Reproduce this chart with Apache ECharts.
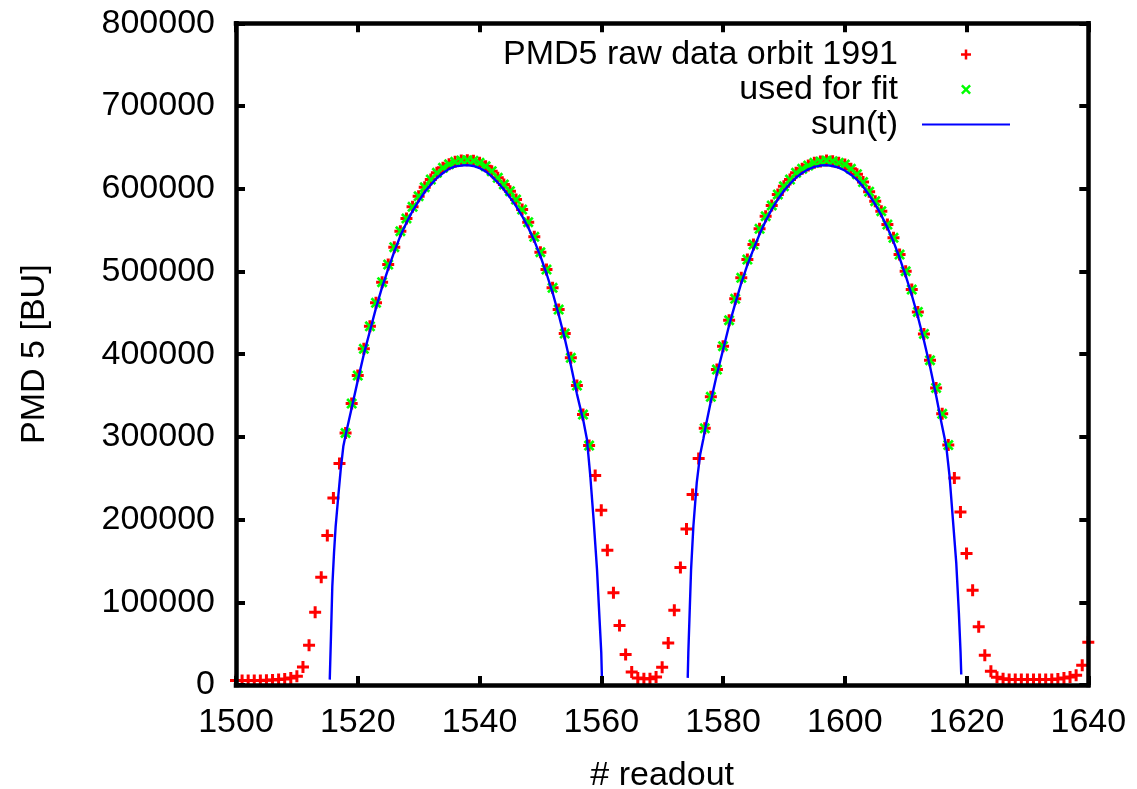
<!DOCTYPE html>
<html><head><meta charset="utf-8">
<script src="https://cdn.jsdelivr.net/npm/echarts@6/dist/echarts.min.js"></script>
<style>html,body{margin:0;padding:0;background:#fff}#c{width:1137px;height:789px}</style>
</head><body><div id="c"></div>
<script>
// ---- data ----
const firstReadout = 1500;
const rawValues = [
  5300, 5300, 5300, 5300, 5300, 5700, 6100, 6500, 7400, 8600,
  10500, 21900, 48000, 87900, 130200, 180600, 226200, 267700, 304700, 340300,
  374100, 406400, 433700, 462000, 487000, 508300, 529300, 548600, 564000, 578100,
  590900, 601800, 611100, 619200, 625300, 629600, 632500, 634100, 634500, 633700,
  631300, 627200, 621200, 613200, 605100, 597000, 586900, 574800, 559500, 541800,
  523200, 502300, 480200, 453900, 424900, 395500, 362000, 327000, 289500, 253200,
  211300, 162900, 111400, 71800, 36800, 15800, 8600, 7700, 7700, 9800,
  21400, 50900, 90300, 142000, 188700, 230200, 273800, 310300, 348400, 381400,
  409600, 441000, 466900, 492300, 514400, 532500, 551500, 566700, 579700, 593000,
  603000, 611100, 619200, 624000, 628000, 631300, 632900, 634100, 633300, 631300,
  629300, 624000, 617600, 608100, 596400, 584900, 572800, 556700, 540600, 520400,
  500200, 478100, 451100, 424500, 392600, 359200, 327800, 290100, 250400, 209300,
  158900, 114500, 70300, 35900, 16600, 9300, 7700, 6500, 6500, 6500,
  6500, 6500, 6500, 6500, 6500, 7400, 8600, 9800, 11700, 23800,
  51600
];
const fitRanges = [[1518, 1558], [1577, 1617]];

const sunX = [
  1515.4, 1515.6, 1515.82, 1516.1, 1516.37, 1516.8, 1517.2, 1517.63,
  1518, 1519, 1520, 1521, 1522, 1523, 1524, 1525, 1526, 1527, 1528, 1529,
  1530, 1531, 1532, 1533, 1534, 1535, 1536, 1537, 1538, 1539,
  1540, 1541, 1542, 1543, 1544, 1545, 1546, 1547, 1548, 1549,
  1550, 1551, 1552, 1553, 1554, 1555, 1556,
  1557.1, 1557.65, 1558.2, 1558.74, 1559.3, 1559.72, 1560.0, 1560.1,
  1567,
  1574.2, 1574.3, 1574.48, 1574.75, 1575.13, 1575.68, 1576.23, 1576.78,
  1577, 1578, 1579, 1580, 1581, 1582, 1583, 1584, 1585, 1586, 1587, 1588, 1589,
  1590, 1591, 1592, 1593, 1594, 1595, 1596, 1597, 1598, 1599,
  1600, 1601, 1602, 1603, 1604, 1605, 1606, 1607, 1608, 1609,
  1610, 1611, 1612, 1613, 1614, 1615,
  1615.85, 1616.67, 1617.21, 1617.76, 1618.31, 1618.74, 1619.02, 1619.13
];
const sunY = [
  6500, 58900, 119400, 159700, 191900, 228200, 260500, 288600,
  302000, 335000, 368000, 400000, 428000, 456000, 481000, 503000, 524000, 543000, 559000, 573000,
  585000, 596000, 605000, 613000, 619000, 624000, 627000, 628000, 628500, 627500,
  625000, 621000, 615000, 607500, 599000, 589500, 579000, 567000, 553000, 537000,
  518500, 497500, 474500, 448000, 419000, 387000, 352000,
  318000, 296700, 252400, 200000, 139500, 79100, 38800, 10500,
  null,
  8600, 38800, 79100, 139500, 191900, 244400, 278000, 298000,
  307000, 343000, 376000, 405000, 435000, 461000, 486000, 508000, 527000, 545000, 561000, 575000, 587000,
  597500, 606000, 613500, 619000, 623500, 626500, 628000, 628500, 627500, 625500,
  622000, 617000, 611000, 602500, 592500, 581000, 568000, 553000, 536000, 516500,
  495000, 471500, 445500, 416500, 385000, 350000,
  318000, 288600, 252400, 200000, 147600, 87200, 38800, 12600
];

const xMin = 1500, xMax = 1640, xStep = 20;
const yMin = 0, yMax = 800000, yStep = 100000;

// ---- build series data ----
const rawData = rawValues.map((v, i) => [firstReadout + i, v]);
const fitData = rawData.filter(d => fitRanges.some(r => d[0] >= r[0] && d[0] <= r[1]));
const sunData = sunX.map((x, i) => [x, sunY[i] === null ? '-' : sunY[i]]);

const FONT = "'Liberation Sans', Arial, Helvetica, sans-serif";
const FS = 34;
const PLUS = 'path://M4.5,0H7.5V12H4.5Z M0,4.5H12V7.5H0Z';
const CROSS = 'path://M0,1.9L1.9,0L5.5,3.6L9.1,0L11,1.9L7.4,5.5L11,9.1L9.1,11L5.5,7.4L1.9,11L0,9.1L3.6,5.5Z';

const axisLine = { show: true, onZero: false, lineStyle: { color: '#000', width: 4.5, cap: 'square' } };
const axisTick = { show: true, inside: true, length: 9, lineStyle: { color: '#000', width: 4 } };

const chart = echarts.init(document.getElementById('c'), null, { renderer: 'canvas' });
chart.setOption({
  animation: false,
  backgroundColor: '#fff',
  grid: { left: 236, right: 48.7, top: 23.3, bottom: 104, containLabel: false, outerBoundsMode: 'none', show: false },
  legend: {
    orient: 'vertical', align: 'right', right: 122, top: 32,
    itemWidth: 88, itemHeight: 10, itemGap: 0,
    textStyle: { fontSize: FS, lineHeight: 35, fontFamily: FONT, color: '#000', padding: [0, 19, 0, 0] },
    data: [
      { name: 'PMD5 raw data orbit 1991' },
      { name: 'used for fit' },
      { name: 'sun(t)', icon: 'path://M0,0H88V2H0Z' }
    ]
  },
  xAxis: [
    {
      type: 'value', position: 'bottom', min: xMin, max: xMax, interval: xStep, z: 5,
      axisLine, axisTick, splitLine: { show: false },
      axisLabel: { fontSize: FS, fontFamily: FONT, color: '#000', margin: 21, formatter: v => String(v) },
      name: '# readout', nameLocation: 'middle', nameGap: 74,
      nameTextStyle: { fontSize: FS, fontFamily: FONT, color: '#000' }
    },
    {
      type: 'value', position: 'top', min: xMin, max: xMax, interval: xStep, z: 5,
      axisLine, axisTick, splitLine: { show: false }, axisLabel: { show: false }
    }
  ],
  yAxis: [
    {
      type: 'value', position: 'left', min: yMin, max: yMax, interval: yStep, z: 5,
      axisLine, axisTick, splitLine: { show: false },
      axisLabel: { fontSize: FS, fontFamily: FONT, color: '#000', margin: 21, formatter: v => String(v) },
      name: 'PMD 5 [BU]', nameLocation: 'middle', nameGap: 184, nameRotate: 90,
      nameTextStyle: { fontSize: FS, fontFamily: FONT, color: '#000' }
    },
    {
      type: 'value', position: 'right', min: yMin, max: yMax, interval: yStep, z: 5,
      axisLine, axisTick, splitLine: { show: false }, axisLabel: { show: false }
    }
  ],
  series: [
    {
      name: 'PMD5 raw data orbit 1991', type: 'scatter', data: rawData,
      symbol: PLUS, symbolSize: 12, itemStyle: { color: '#ff0000', opacity: 1 }
    },
    {
      name: 'used for fit', type: 'scatter', data: fitData,
      symbol: CROSS, symbolSize: 11, itemStyle: { color: '#00ff00', opacity: 1 }
    },
    {
      name: 'sun(t)', type: 'line', data: sunData, showSymbol: false, symbol: 'none',
      connectNulls: false, lineStyle: { color: '#0000ff', width: 2.4 }, itemStyle: { color: '#0000ff' }
    }
  ]
});
</script>
</body></html>
